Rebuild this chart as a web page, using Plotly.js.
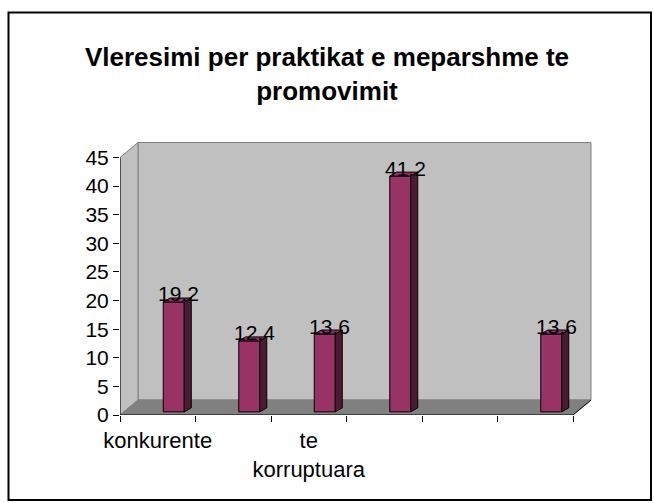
<!DOCTYPE html>
<html>
<head>
<meta charset="utf-8">
<script src="https://cdn.plot.ly/plotly-3.0.1.min.js"></script>
<style>html,body{margin:0;padding:0;background:#fff;}#chart{width:654px;height:503px;}</style>
</head>
<body>
<div id="chart"></div>
<script>
// ---- data ----
const titleText = "Vleresimi per praktikat e meparshme te<br>promovimit";
const categories = ["konkurente", "", "te<br>korruptuara", "", "", ""];
const values = [19.2, 12.4, 13.6, 41.2, null, 13.6];
const yTicks = [0, 5, 10, 15, 20, 25, 30, 35, 40, 45];

// ---- geometry / style ----
const FONT = "Liberation Sans, Arial, sans-serif";
const W = 654, H = 503;
const pxX = 75.5, pxY = 5.7222;           // pixels per unit
const dX = 18 / pxX, dY = 15 / pxY;        // floor depth
const B = 0.55;                            // bar base (depth)
const OFF = 0.073, BW = 0.278;             // bar offset / width
const bdx = 7 / pxX, bdy = 4 / pxY;        // bar depth
const N = categories.length;
const xs = categories.map((c, i) => i + 1);
const yMax = yTicks[yTicks.length - 1];

const traces = [];
const bx = [], by = [];
xs.forEach((x, i) => { if (values[i] !== null) { bx.push(x); by.push(values[i]); } });

traces.push({
  type: "bar", x: bx, y: by, base: B, offset: OFF, width: BW,
  marker: {color: "#993366", line: {color: "#000", width: 1}},
  hoverinfo: "skip", showlegend: false
});

const annotations = [];
bx.forEach((x, k) => {
  const v = by[k];
  const xl = x + OFF, xr = x + OFF + BW, top = B + v;
  traces.push({
    type: "scatter", mode: "lines", fill: "toself", fillcolor: "#4d1a33",
    x: [xr, xr, xr + bdx, xr + bdx, xr], y: [B, top, top + bdy, B + bdy, B],
    line: {color: "#000", width: 1}, hoverinfo: "skip", showlegend: false
  });
  traces.push({
    type: "scatter", mode: "lines", fill: "toself", fillcolor: "#993366",
    x: [xl, xr, xr + bdx, xl + bdx, xl], y: [top, top, top + bdy, top + bdy, top],
    line: {color: "#000", width: 1}, hoverinfo: "skip", showlegend: false
  });
  annotations.push({
    xref: "x", yref: "y", x: x + 0.277, y: top, yanchor: "middle", yshift: 8,
    text: String(v), showarrow: false, font: {family: FONT, size: 21, color: "#000"}
  });
});

const xLeft = 0.5, xRight = N + 0.5;
const shapes = [
  {type: "rect", xref: "x", yref: "y", layer: "below", x0: xLeft + dX, x1: xRight + dX, y0: dY, y1: yMax + dY,
   fillcolor: "#c0c0c0", line: {color: "#808080", width: 1}},
  {type: "path", xref: "x", yref: "y", layer: "below",
   path: `M ${xLeft},0 L ${xLeft + dX},${dY} L ${xLeft + dX},${yMax + dY} L ${xLeft},${yMax} Z`,
   fillcolor: "#c0c0c0", line: {color: "#808080", width: 1}},
  {type: "path", xref: "x", yref: "y", layer: "below",
   path: `M ${xLeft},0 L ${xRight},0 L ${xRight + dX},${dY} L ${xLeft + dX},${dY} Z`,
   fillcolor: "#808080", line: {color: "#808080", width: 1}},
  {type: "line", xref: "x", yref: "y", layer: "below", x0: xRight, y0: 0, x1: xRight + dX, y1: dY,
   line: {color: "#000", width: 1}},
  {type: "line", xref: "x", yref: "y", x0: xLeft, y0: 0, x1: xRight, y1: 0, line: {color: "#000", width: 1}},
  {type: "line", xref: "x", yref: "y", x0: xLeft, y0: 0, x1: xLeft, y1: yMax, line: {color: "#000", width: 1}},
  {type: "rect", xref: "paper", yref: "paper", x0: 8.5 / W, x1: 651 / W, y0: 1 - 500 / H, y1: 1 - 12.5 / H,
   line: {color: "#000", width: 2}, fillcolor: "rgba(0,0,0,0)"}
];

const layout = {
  width: W, height: H,
  margin: {l: 0, r: 0, t: 0, b: 0},
  paper_bgcolor: "#fff", plot_bgcolor: "rgba(0,0,0,0)",
  showlegend: false,
  title: {text: titleText, x: 0.5, xanchor: "center", y: 1 - 66 / H, yanchor: "middle", yref: "container",
          font: {family: FONT, size: 26, color: "#000", weight: "bold"}},
  xaxis: {
    domain: [120 / W, 592 / W], range: [xLeft, xLeft + 472 / pxX],
    tickmode: "array", tickvals: xs, ticktext: categories, ticks: "",
    ticklabelstandoff: 10,
    showgrid: false, zeroline: false, showline: false,
    tickfont: {family: FONT, size: 22, color: "#000"},
    minor: {tickmode: "linear", tick0: 0.5, dtick: 1, ticks: "outside", ticklen: 6, tickcolor: "#000", tickwidth: 1, showgrid: false}
  },
  yaxis: {
    domain: [1 - 415 / H, 1 - 142 / H], range: [0, (415 - 142) / pxY],
    tickmode: "array", tickvals: yTicks, ticks: "outside", ticklen: 6, tickcolor: "#000",
    showgrid: false, zeroline: false, showline: false,
    tickfont: {family: FONT, size: 21, color: "#000"}
  },
  shapes: shapes,
  annotations: annotations,
  bargap: 0
};

Plotly.newPlot("chart", traces, layout, {staticPlot: true, displayModeBar: false});
</script>
</body>
</html>
